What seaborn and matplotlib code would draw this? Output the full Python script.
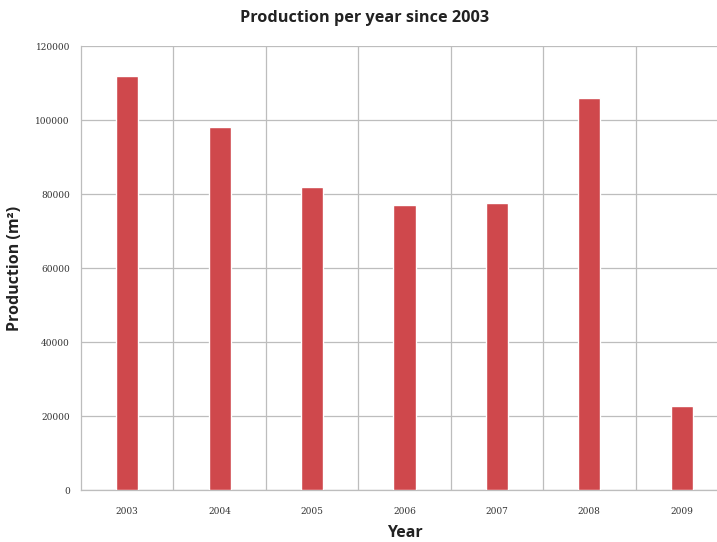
import matplotlib
matplotlib.use("Agg")
import matplotlib.pyplot as plt
import seaborn as sns
import pandas as pd
import numpy as np

years = ["2003", "2004", "2005", "2006", "2007", "2008", "2009"]
production = [112000, 98000, 82000, 77000, 77500, 106000, 22700]
yticks = [0, 20000, 40000, 60000, 80000, 100000, 120000]

sns.set_theme(style="white")
plt.rcParams['font.family'] = ['DejaVu Sans']

df = pd.DataFrame({"Year": years, "Production": production})

fig = plt.figure(figsize=(7.17, 5.42), dpi=100)
ax = fig.add_axes([81/717, 1-490/542, (728-81)/717, (490-46)/542])

sns.barplot(data=df, x="Year", y="Production", color="#CF484C", saturation=1,
            width=0.24, ax=ax, zorder=3)

grid_c = "#bdbdbd"
ax.set_ylim(0, 120000)
ax.set_xlim(-0.5, 6.5)
ax.set_yticks(yticks)
ax.set_yticklabels([str(v) for v in yticks], fontsize=6.5, color="#333333",
                   family="DejaVu Serif")
ax.set_xticks(range(len(years)))
ax.set_xticklabels(years, fontsize=6.5, color="#333333", family="DejaVu Serif")
ax.set_xticks(np.arange(0.5, 6.5, 1.0), minor=True)
ax.grid(axis="y", which="major", color=grid_c, linewidth=0.9, zorder=0)
ax.grid(axis="x", which="minor", color=grid_c, linewidth=0.9, zorder=0)
ax.grid(axis="x", which="major", visible=False)
ax.tick_params(axis="both", which="both", length=0, pad=12)
ax.tick_params(axis="y", pad=8)
for s in ["top", "right"]:
    ax.spines[s].set_visible(False)
for s in ["left", "bottom"]:
    ax.spines[s].set_color(grid_c)
    ax.spines[s].set_linewidth(0.9)

ax.set_xlabel("Year", fontsize=11.5, fontweight="bold", family="Open Sans",
              color="#222222", labelpad=7)
ax.set_ylabel("Production (m²)", fontsize=11.5, fontweight="bold", family="Open Sans",
              color="#222222", labelpad=9)
fig.text(365/717, 1-18/542, "Production per year since 2003", ha="center", va="center",
         fontsize=11.7, fontweight="bold", family="Open Sans", color="#222222")

fig.savefig("out.png", dpi=100)
